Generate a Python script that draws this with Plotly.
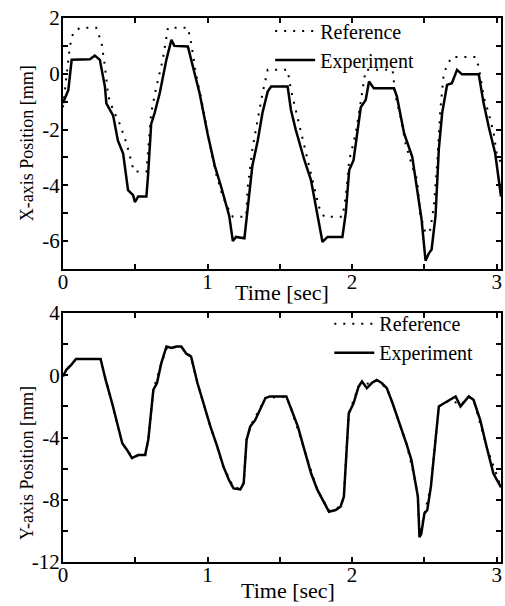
import plotly.graph_objects as go

# ---------------- Top panel: X-axis position ----------------
x_exp_t = [0.00, 0.037, 0.06, 0.10, 0.186, 0.22, 0.255, 0.29, 0.30, 0.347, 0.38, 0.416, 0.45, 0.485,
           0.497, 0.52, 0.577, 0.589, 0.61, 0.634, 0.669, 0.715, 0.75, 0.77, 0.864, 0.887, 0.945,
           1.0, 1.05, 1.094, 1.15, 1.175, 1.197, 1.255, 1.278, 1.31, 1.347, 1.38, 1.416, 1.44,
           1.554, 1.577, 1.61, 1.67, 1.715, 1.76, 1.795, 1.83, 1.933, 1.956, 1.98, 2.01, 2.06,
           2.094, 2.117, 2.15, 2.29, 2.31, 2.36, 2.416, 2.45, 2.48, 2.508, 2.53, 2.55, 2.577,
           2.6, 2.623, 2.657, 2.69, 2.726, 2.76, 2.876, 2.91, 2.945, 2.99, 3.03]
x_exp_v = [-1.05, -0.58, 0.50, 0.50, 0.52, 0.65, 0.50, -0.46, -1.06, -1.50, -2.40, -2.86, -4.17, -4.35,
           -4.60, -4.40, -4.40, -3.60, -1.80, -1.40, -0.70, 0.50, 1.22, 1.00, 0.98, 0.50, -0.70,
           -2.14, -3.30, -4.05, -5.10, -6.00, -5.85, -5.90, -4.80, -3.30, -2.40, -1.40, -0.64, -0.46,
           -0.46, -1.30, -2.00, -3.10, -3.80, -5.10, -6.03, -5.85, -5.85, -5.00, -3.45, -3.10, -1.20,
           -0.94, -0.28, -0.52, -0.52, -0.82, -2.14, -2.98, -4.17, -5.20, -6.70, -6.45, -6.30, -5.10,
           -2.70, -1.40, -0.40, -0.34, 0.14, -0.02, -0.02, -1.06, -1.90, -2.86, -4.40]

x_ref_t = [0.00, 0.025, 0.048, 0.07, 0.117, 0.23, 0.267, 0.29, 0.313, 0.347, 0.393, 0.44, 0.474, 0.49,
           0.577, 0.589, 0.61, 0.646, 0.69, 0.726, 0.864, 0.887, 0.92, 0.968, 1.014, 1.06, 1.105,
           1.15, 1.175, 1.267, 1.278, 1.31, 1.347, 1.38, 1.416, 1.554, 1.577, 1.61, 1.646, 1.69,
           1.738, 1.77, 1.807, 1.933, 1.956, 1.98, 2.025, 2.06, 2.083, 2.094, 2.28, 2.30, 2.335,
           2.37, 2.416, 2.45, 2.47, 2.508, 2.54, 2.565, 2.59, 2.61, 2.634, 2.657, 2.69, 2.853,
           2.876, 2.91, 2.945, 2.98, 3.0, 3.03]
x_ref_v = [-1.2, 0.0, 1.0, 1.46, 1.65, 1.65, 1.1, 0.26, -0.8, -1.3, -1.8, -2.5, -3.2, -3.5,
           -3.5, -2.6, -1.4, -0.46, 0.5, 1.65, 1.65, 1.1, 0.0, -1.2, -2.5, -3.6, -4.4,
           -4.9, -5.13, -5.13, -4.05, -2.7, -1.6, -0.7, 0.14, 0.14, -0.58, -1.3, -2.0, -3.0,
           -4.05, -4.77, -5.13, -5.13, -4.4, -3.1, -2.14, -0.94, -0.2, 0.14, 0.14, -0.8, -1.54,
           -2.5, -3.33, -3.8, -5.0, -5.73, -5.6, -4.77, -3.1, -1.3, 0.0, 0.3, 0.6, 0.6,
           0.26, -0.82, -1.42, -2.14, -2.86, -3.2]

# ---------------- Bottom panel: Y-axis position ----------------
y_exp_t = [0.0, 0.023, 0.057, 0.09, 0.26, 0.295, 0.34, 0.375, 0.41, 0.443, 0.477, 0.52, 0.568, 0.59,
           0.625, 0.65, 0.68, 0.716, 0.75, 0.784, 0.818, 0.852, 0.886, 0.93, 0.977, 1.02, 1.068,
           1.11, 1.148, 1.18, 1.227, 1.25, 1.27, 1.295, 1.33, 1.364, 1.40, 1.43, 1.545, 1.58,
           1.625, 1.67, 1.716, 1.76, 1.807, 1.84, 1.886, 1.92, 1.943, 1.977, 2.01, 2.045, 2.068,
           2.102, 2.136, 2.17, 2.205, 2.24, 2.28, 2.33, 2.375, 2.41, 2.43, 2.455, 2.466, 2.478,
           2.5, 2.52, 2.545, 2.58, 2.60, 2.636, 2.68, 2.716, 2.75, 2.784, 2.807, 2.84, 2.886,
           2.93, 2.977, 3.03]
y_exp_v = [-0.08, 0.35, 0.67, 1.04, 1.04, -0.3, -1.8, -3.08, -4.37, -4.8, -5.33, -5.12, -5.12, -4.15,
           -0.94, -0.5, 0.78, 1.85, 1.75, 1.85, 1.85, 1.4, 1.2, -0.5, -2.0, -3.3, -4.6,
           -5.87, -6.73, -7.27, -7.33, -6.94, -4.15, -3.3, -2.87, -2.2, -1.47, -1.36, -1.36, -2.2,
           -3.3, -4.8, -6.3, -7.37, -8.23, -8.77, -8.66, -8.45, -7.8, -2.44, -1.8, -0.72, -0.4,
           -0.83, -0.5, -0.3, -0.5, -0.83, -1.8, -3.08, -4.37, -5.44, -6.5, -7.8, -10.4, -10.2,
           -8.88, -8.66, -7.16, -4.15, -2.0, -1.8, -1.58, -1.36, -2.0, -1.58, -1.36, -1.58, -2.87,
           -4.58, -6.3, -7.2]

y_ref_t = [0.0, 0.03, 0.09, 0.26, 0.30, 0.34, 0.41, 0.45, 0.48, 0.57, 0.59, 0.625, 0.68, 0.72,
           0.82, 0.885, 0.93, 1.02, 1.11, 1.18, 1.23, 1.25, 1.27, 1.30, 1.40, 1.545, 1.58, 1.67,
           1.76, 1.84, 1.92, 1.943, 1.977, 2.045, 2.17, 2.24, 2.28, 2.375, 2.43, 2.455, 2.466,
           2.5, 2.545, 2.60, 2.68, 2.75, 2.81, 2.84, 2.93, 3.03]
y_ref_v = [0.0, 0.4, 1.04, 1.04, -0.4, -1.8, -4.37, -4.9, -5.25, -5.1, -4.15, -0.94, 0.78, 1.8,
           1.8, 1.2, -0.5, -3.3, -5.87, -7.2, -7.3, -6.9, -4.15, -3.2, -1.47, -1.36, -2.2, -4.8,
           -7.37, -8.7, -8.45, -7.8, -2.44, -0.72, -0.35, -0.83, -1.8, -4.37, -6.5, -7.8, -10.3,
           -8.9, -7.16, -2.0, -1.58, -1.9, -1.4, -1.58, -4.58, -7.2]

x_ticks = [0, 0.5, 1, 1.5, 2, 2.5, 3]
x_ticktext = ["0", "", "1", "", "2", "", "3"]
top_ticks = [2, 1, 0, -1, -2, -3, -4, -5, -6, -7]
top_ticktext = ["2", "", "0", "", "-2", "", "-4", "", "-6", ""]
bot_ticks = [4, 2, 0, -2, -4, -6, -8, -10, -12]
bot_ticktext = ["4", "", "0", "", "-4", "", "-8", "", "-12"]

FONT = "Liberation Serif"
DOT = "2px,7px"

fig = go.Figure()
fig.add_trace(go.Scatter(x=x_ref_t, y=x_ref_v, mode="lines", name="Reference",
                         line=dict(color="black", width=2, dash=DOT),
                         xaxis="x", yaxis="y", legend="legend"))
fig.add_trace(go.Scatter(x=x_exp_t, y=x_exp_v, mode="lines", name="Experiment",
                         line=dict(color="black", width=2.5),
                         xaxis="x", yaxis="y", legend="legend"))
fig.add_trace(go.Scatter(x=y_ref_t, y=y_ref_v, mode="lines", name="Reference",
                         line=dict(color="black", width=2, dash=DOT),
                         xaxis="x2", yaxis="y2", legend="legend2"))
fig.add_trace(go.Scatter(x=y_exp_t, y=y_exp_v, mode="lines", name="Experiment",
                         line=dict(color="black", width=2.5),
                         xaxis="x2", yaxis="y2", legend="legend2"))

axis_common = dict(showline=True, linecolor="black", linewidth=2, mirror="ticks",
                   ticks="inside", ticklen=5, tickwidth=1.5, tickcolor="black",
                   showgrid=False, zeroline=False,
                   tickfont=dict(family=FONT, size=21, color="black"))

fig.update_layout(
    width=505, height=606,
    margin=dict(l=63, r=2, t=18, b=44),
    paper_bgcolor="white", plot_bgcolor="white",
    font=dict(family=FONT, color="black"),
    xaxis=dict(domain=[0, 1], range=[0, 3.03], anchor="y",
               tickvals=x_ticks, ticktext=x_ticktext, ticklabelstandoff=-7, **axis_common),
    yaxis=dict(domain=[0.5386, 1], range=[-7, 2], anchor="x",
               tickvals=top_ticks, ticktext=top_ticktext, ticklabelstandoff=-3, **axis_common),
    xaxis2=dict(domain=[0, 1], range=[0, 3.03], anchor="y2",
                tickvals=x_ticks, ticktext=x_ticktext, ticklabelstandoff=-7, **axis_common),
    yaxis2=dict(domain=[0, 0.4577], range=[-12, 4], anchor="x2",
                tickvals=bot_ticks, ticktext=bot_ticktext, ticklabelstandoff=-3, **axis_common),
    legend=dict(x=0.473, y=1.012, xanchor="left", yanchor="top",
                bgcolor="rgba(0,0,0,0)", font=dict(family=FONT, size=20, color="black"),
                tracegroupgap=0, itemwidth=40),
    legend2=dict(x=0.608, y=0.474, xanchor="left", yanchor="top",
                 bgcolor="rgba(0,0,0,0)", font=dict(family=FONT, size=20, color="black"),
                 tracegroupgap=0, itemwidth=40),
    annotations=[
        dict(text="Time [sec]", xref="paper", yref="paper", x=0.5, y=0.4945,
             xanchor="center", yanchor="middle", showarrow=False,
             font=dict(family=FONT, size=22, color="black")),
        dict(text="Time [sec]", xref="paper", yref="paper", x=0.513, y=-0.0515,
             xanchor="center", yanchor="middle", showarrow=False,
             font=dict(family=FONT, size=22, color="black")),
        dict(text="X-axis Position [mm]", xref="paper", yref="paper", x=-0.082, y=0.770,
             xanchor="center", yanchor="middle", showarrow=False, textangle=-90,
             font=dict(family=FONT, size=18, color="black")),
        dict(text="Y-axis Position [mm]", xref="paper", yref="paper", x=-0.082, y=0.182,
             xanchor="center", yanchor="middle", showarrow=False, textangle=-90,
             font=dict(family=FONT, size=18, color="black")),
    ],
)

fig.write_html("out.html", config={"displayModeBar": False},
               post_script="document.body.style.margin='0';document.body.style.overflow='hidden';")
